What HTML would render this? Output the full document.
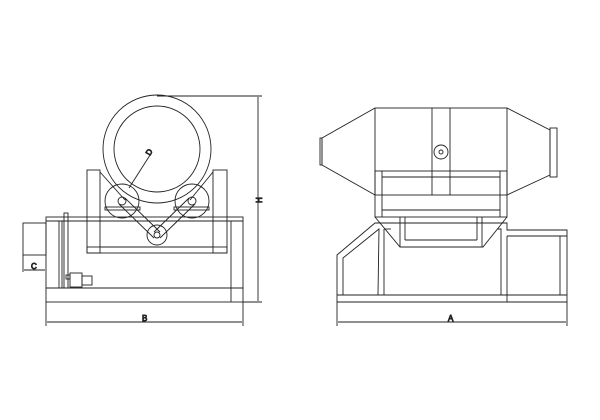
<!DOCTYPE html>
<html><head><style>body{margin:0;background:#fff}svg{display:block}text{font-family:"Liberation Sans",sans-serif;font-size:8px;fill:#222}</style></head><body>
<svg width="600" height="420" viewBox="0 0 600 420" xmlns="http://www.w3.org/2000/svg" fill="none" stroke="#222" stroke-width="0.9">
<!-- LEFT VIEW -->
<rect x="87" y="170" width="13" height="83"/>
<rect x="213" y="170" width="14" height="83"/>
<rect x="87" y="247" width="140" height="6"/>
<line x1="100" y1="247" x2="213" y2="247"/>
<rect x="46" y="217" width="197" height="85"/>
<line x1="46" y1="221" x2="243" y2="221"/>
<line x1="46" y1="288" x2="243" y2="288"/>
<line x1="231" y1="221" x2="231" y2="302"/>
<line x1="62" y1="221" x2="62" y2="288"/>
<rect x="23" y="223" width="23" height="32"/>
<rect x="64" y="213" width="4" height="75"/>
<line x1="59" y1="221" x2="59" y2="288"/>
<rect x="70" y="273" width="12" height="14"/>
<rect x="82" y="276" width="10" height="9"/>
<rect x="66" y="275" width="4" height="4"/>
<circle cx="157" cy="149" r="54" fill="#fff"/>
<circle cx="157" cy="149" r="43"/>
<line x1="100" y1="172" x2="125" y2="200"/>
<line x1="213" y1="172" x2="190" y2="200"/>
<circle cx="122" cy="201" r="17"/>
<circle cx="192" cy="201" r="17"/>
<circle cx="122" cy="201" r="4"/>
<circle cx="192" cy="201" r="4"/>
<circle cx="157" cy="235" r="10"/>
<circle cx="157" cy="235" r="3"/>
<rect x="105" y="207" width="35" height="3"/>
<rect x="174" y="207" width="35" height="3"/>
<line x1="119" y1="204" x2="154" y2="238"/>
<line x1="125" y1="198" x2="160" y2="232"/>
<line x1="189" y1="198" x2="154" y2="232"/>
<line x1="195" y1="204" x2="160" y2="238"/>
<line x1="129" y1="188" x2="152" y2="152"/>
<text x="150" y="156" transform="rotate(-60 150 156)">D</text>
<!-- dims left -->
<line x1="157" y1="96" x2="262" y2="96"/>
<line x1="243" y1="302" x2="262" y2="302"/>
<line x1="258" y1="97" x2="258" y2="301"/>
<text x="262" y="203" transform="rotate(-90 262 203)">H</text>
<line x1="46" y1="302" x2="46" y2="326"/>
<line x1="243" y1="302" x2="243" y2="326"/>
<line x1="47" y1="322" x2="242" y2="322"/>
<text x="142" y="321">B</text>
<line x1="23" y1="255" x2="23" y2="272"/>
<line x1="24" y1="270" x2="45" y2="270"/>
<text x="31" y="269">C</text>
<!-- RIGHT VIEW -->
<rect x="375" y="108" width="132" height="87"/>
<polyline points="375,108 322,138 322,165 375,195"/>
<rect x="320" y="138" width="2" height="27"/>
<polyline points="507,108 550,130 550,175 507,195"/>
<rect x="550" y="128" width="7" height="49"/>
<line x1="432" y1="108" x2="432" y2="195"/>
<line x1="450" y1="108" x2="450" y2="195"/>
<circle cx="441" cy="152" r="7" fill="#fff"/>
<circle cx="441" cy="152" r="2"/>
<rect x="375" y="171" width="132" height="46"/>
<line x1="382" y1="177" x2="500" y2="177"/>
<line x1="382" y1="210" x2="500" y2="210"/>
<line x1="382" y1="171" x2="382" y2="217"/>
<line x1="500" y1="171" x2="500" y2="217"/>
<polyline points="375,217 400,247 483,247 507,217"/>
<line x1="400" y1="217" x2="400" y2="247"/>
<line x1="405" y1="217" x2="405" y2="240"/>
<line x1="477" y1="217" x2="477" y2="240"/>
<line x1="482" y1="217" x2="482" y2="247"/>
<line x1="385" y1="223" x2="497" y2="223"/>
<line x1="405" y1="240" x2="477" y2="240"/>
<polyline points="337,302 337,255 375,223 507,223 507,230 567,230 567,302 337,302"/>
<polyline points="343,295 343,258 379,229 378,295"/>
<line x1="384" y1="229" x2="384" y2="295"/>
<polyline points="384,229 391,229"/>
<polyline points="497,229 501,229 501,295"/>
<line x1="337" y1="295" x2="567" y2="295"/>
<line x1="507" y1="236" x2="567" y2="236"/>
<line x1="507" y1="236" x2="507" y2="302"/>
<line x1="560" y1="236" x2="560" y2="295"/>
<line x1="337" y1="302" x2="337" y2="326"/>
<line x1="567" y1="302" x2="567" y2="326"/>
<line x1="338" y1="322" x2="566" y2="322"/>
<text x="448" y="321">A</text>
</svg>
</body></html>
